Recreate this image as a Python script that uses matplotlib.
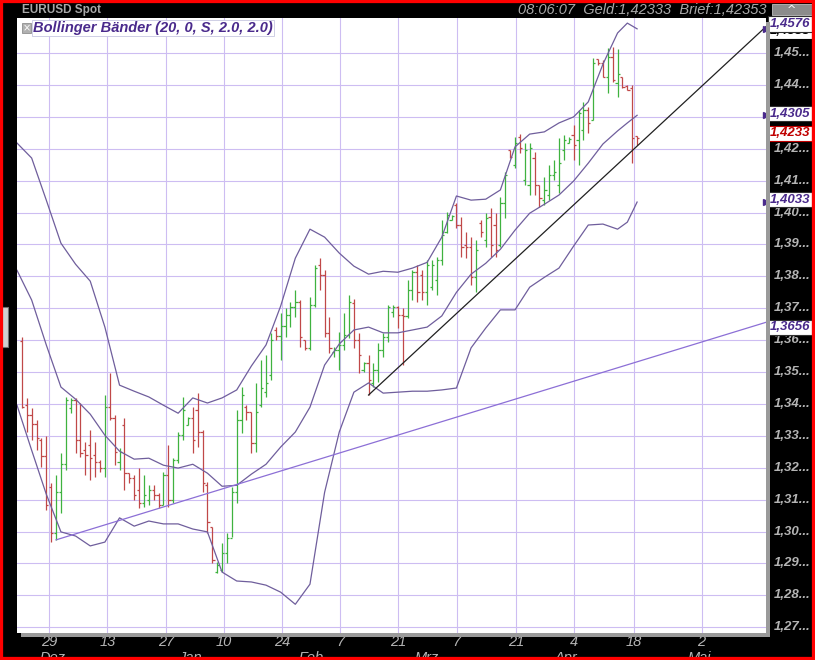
import matplotlib
matplotlib.use("Agg")
import matplotlib.pyplot as plt
from matplotlib.patches import Rectangle
import numpy as np

# EURUSD Tagesbalken (inkl. Sonntagsbalken), Index 0 = 23.11.2010
opens = [1.3597, 1.3396, 1.3365, 1.3337, 1.3287, 1.3236, 1.3139, 1.2996, 1.3123, 1.3211,
         1.3387, 1.3412, 1.3287, 1.3255, 1.3271, 1.3239, 1.3217, 1.3199, 1.3390, 1.3356,
         1.3217, 1.3334, 1.3183, 1.3167, 1.3130, 1.3090, 1.3099, 1.3130, 1.3114, 1.3083,
         1.3177, 1.3099, 1.3224, 1.3302, 1.3334, 1.3356, 1.3380, 1.3312, 1.3145, 1.3014,
         1.2873, 1.2879, 1.2933, 1.2980, 1.3123, 1.3349, 1.3390, 1.3374, 1.3277, 1.3396,
         1.3437, 1.3491, 1.3632, 1.3613, 1.3644, 1.3679, 1.3704, 1.3720, 1.3601, 1.3576,
         1.3710, 1.3835, 1.3804, 1.3623, 1.3563, 1.3569, 1.3585, 1.3616, 1.3717, 1.3601,
         1.3506, 1.3528, 1.3466, 1.3506, 1.3569, 1.3610, 1.3688, 1.3704, 1.3679, 1.3676,
         1.3757, 1.3813, 1.3804, 1.3750, 1.3766, 1.3788, 1.3851, 1.3939, 1.3976, 1.4023,
         1.3961, 1.3898, 1.3892, 1.3797, 1.3967, 1.3914, 1.3986, 1.3961, 1.3898, 1.4030,
         1.4196, 1.4149, 1.4237, 1.4102, 1.4086, 1.4171, 1.4086, 1.4039, 1.4055, 1.4118,
         1.4086, 1.4196, 1.4218, 1.4243, 1.4228, 1.4259, 1.4322, 1.4290, 1.4481, 1.4468,
         1.4424, 1.4487, 1.4405, 1.4424, 1.4396, 1.4390, 1.4240]
highs = [1.3610, 1.3419, 1.3387, 1.3349, 1.3293, 1.3299, 1.3152, 1.3177, 1.3246, 1.3422,
         1.3419, 1.3419, 1.3403, 1.3280, 1.3318, 1.3280, 1.3224, 1.3428, 1.3497, 1.3365,
         1.3262, 1.3356, 1.3183, 1.3177, 1.3199, 1.3177, 1.3145, 1.3145, 1.3120, 1.3186,
         1.3271, 1.3230, 1.3312, 1.3422, 1.3359, 1.3390, 1.3434, 1.3318, 1.3155, 1.3014,
         1.2904, 1.2964, 1.2996, 1.3139, 1.3381, 1.3453, 1.3396, 1.3374, 1.3466, 1.3538,
         1.3553, 1.3623, 1.3641, 1.3685, 1.3701, 1.3720, 1.3757, 1.3726, 1.3601, 1.3735,
         1.3835, 1.3857, 1.3819, 1.3673, 1.3579, 1.3626, 1.3685, 1.3741, 1.3728, 1.3623,
         1.3531, 1.3553, 1.3528, 1.3591, 1.3623, 1.3710, 1.3710, 1.3707, 1.3701, 1.3788,
         1.3819, 1.3835, 1.3819, 1.3851, 1.3851, 1.3860, 1.3976, 1.4001, 1.3992, 1.4030,
         1.3986, 1.3939, 1.3923, 1.3914, 1.3976, 1.3998, 1.4014, 1.3998, 1.4049, 1.4127,
         1.4196, 1.4237, 1.4246, 1.4218, 1.4218, 1.4190, 1.4086, 1.4111, 1.4149, 1.4165,
         1.4234, 1.4243, 1.4237, 1.4275, 1.4322, 1.4347, 1.4331, 1.4484, 1.4481, 1.4478,
         1.4516, 1.4519, 1.4512, 1.4424, 1.4399, 1.4399, 1.4240]
lows = [1.3387, 1.3312, 1.3287, 1.3255, 1.3202, 1.3068, 1.2967, 1.2974, 1.3058, 1.3192,
        1.3371, 1.3246, 1.3233, 1.3177, 1.3161, 1.3170, 1.3186, 1.3170, 1.3349, 1.3208,
        1.3192, 1.3130, 1.3152, 1.3099, 1.3074, 1.3077, 1.3083, 1.3099, 1.3074, 1.3083,
        1.3077, 1.3090, 1.3214, 1.3287, 1.3334, 1.3246, 1.3265, 1.3123, 1.2996, 1.2901,
        1.2870, 1.2873, 1.2901, 1.2983, 1.3090, 1.3309, 1.3349, 1.3246, 1.3249, 1.3390,
        1.3422, 1.3475, 1.3601, 1.3538, 1.3610, 1.3641, 1.3673, 1.3579, 1.3569, 1.3569,
        1.3704, 1.3757, 1.3610, 1.3560, 1.3547, 1.3506, 1.3569, 1.3607, 1.3576, 1.3497,
        1.3500, 1.3428, 1.3453, 1.3469, 1.3547, 1.3594, 1.3673, 1.3638, 1.3522, 1.3670,
        1.3726, 1.3720, 1.3726, 1.3710, 1.3757, 1.3741, 1.3835, 1.3936, 1.3976, 1.3951,
        1.3860, 1.3857, 1.3772, 1.3750, 1.3923, 1.3892, 1.3860, 1.3860, 1.3892, 1.3983,
        1.4171, 1.4140, 1.4187, 1.4086, 1.4055, 1.4055, 1.4017, 1.4023, 1.4039, 1.4102,
        1.4061, 1.4165, 1.4218, 1.4165, 1.4149, 1.4228, 1.4250, 1.4290, 1.4462, 1.4424,
        1.4374, 1.4409, 1.4362, 1.4390, 1.4384, 1.4155, 1.4212]
closes = [1.3390, 1.3365, 1.3337, 1.3293, 1.3236, 1.3083, 1.2996, 1.3123, 1.3211, 1.3412,
          1.3412, 1.3287, 1.3246, 1.3239, 1.3230, 1.3217, 1.3199, 1.3390, 1.3356, 1.3249,
          1.3249, 1.3183, 1.3167, 1.3114, 1.3090, 1.3114, 1.3130, 1.3114, 1.3083, 1.3177,
          1.3099, 1.3224, 1.3302, 1.3381, 1.3356, 1.3287, 1.3312, 1.3152, 1.3030, 1.2911,
          1.2895, 1.2933, 1.2980, 1.3123, 1.3349, 1.3428, 1.3374, 1.3277, 1.3374, 1.3450,
          1.3466, 1.3601, 1.3613, 1.3644, 1.3679, 1.3704, 1.3720, 1.3610, 1.3576, 1.3710,
          1.3826, 1.3804, 1.3623, 1.3576, 1.3569, 1.3585, 1.3616, 1.3720, 1.3601, 1.3553,
          1.3528, 1.3475, 1.3506, 1.3569, 1.3610, 1.3704, 1.3704, 1.3679, 1.3676, 1.3757,
          1.3813, 1.3750, 1.3750, 1.3835, 1.3835, 1.3851, 1.3929, 1.3992, 1.3989, 1.3961,
          1.3892, 1.3892, 1.3797, 1.3882, 1.3939, 1.3983, 1.3898, 1.3882, 1.4030, 1.4118,
          1.4174, 1.4218, 1.4203, 1.4196, 1.4203, 1.4086, 1.4046, 1.4071, 1.4118, 1.4127,
          1.4155, 1.4228, 1.4231, 1.4212, 1.4312, 1.4322, 1.4281, 1.4468, 1.4468, 1.4424,
          1.4487, 1.4415, 1.4434, 1.4393, 1.4384, 1.4234, 1.4233]

band_idx = [-1] + list(range(2, 123, 3)) + [124, 126]
upper = [1.4218, 1.4171, 1.4039, 1.3904, 1.3838, 1.3785, 1.3641, 1.3459, 1.3440, 1.3422,
         1.3396, 1.3371, 1.3419, 1.3403, 1.3419, 1.3444, 1.3519, 1.3585, 1.3707, 1.3857,
         1.3948, 1.3923, 1.3873, 1.3832, 1.3807, 1.3816, 1.3813, 1.3826, 1.3844, 1.3923,
         1.4052, 1.4039, 1.4042, 1.4071, 1.4206, 1.4246, 1.4253, 1.4281, 1.4300, 1.4347,
         1.4465, 1.4563, 1.4594, 1.4576]
middle = [1.3819, 1.3726, 1.3585, 1.3453, 1.3415, 1.3368, 1.3302, 1.3252, 1.3227, 1.3230,
          1.3208, 1.3199, 1.3211, 1.3183, 1.3142, 1.3145, 1.3180, 1.3211, 1.3265, 1.3312,
          1.3390, 1.3522, 1.3588, 1.3632, 1.3641, 1.3623, 1.3623, 1.3632, 1.3641, 1.3676,
          1.3750, 1.3807, 1.3841, 1.3885, 1.3945, 1.3998, 1.4026, 1.4055, 1.4099, 1.4155,
          1.4215, 1.4256, 1.4281, 1.4305]
lower = [1.3396, 1.3255, 1.3117, 1.2999, 1.2986, 1.2955, 1.2967, 1.3043, 1.3017, 1.3033,
         1.3024, 1.3024, 1.3008, 1.2999, 1.2873, 1.2845, 1.2842, 1.2832, 1.2810, 1.2772,
         1.2835, 1.3123, 1.3312, 1.3437, 1.3466, 1.3434, 1.3437, 1.3440, 1.3440, 1.3444,
         1.3450, 1.3576, 1.3638, 1.3695, 1.3695, 1.3766, 1.3797, 1.3826, 1.3895, 1.3961,
         1.3964, 1.3948, 1.3970, 1.4033]

# Trendlinien
purple_x, purple_y = [7, 152.4], [1.2974, 1.3656]
black_x, black_y = [71, 152.4], [1.3428, 1.4583]

# Achsenbeschriftung
tick_pos = [5.5, 17.5, 29.5, 41.3, 53.3, 65.2, 77, 89.1, 101.2, 113.1, 125.3, 139.2]
tick_days = ["29", "13", "27", "10", "24", "7", "21", "7", "21", "4", "18", "2"]
month_pos = [6.3, 34.4, 59.2, 82.9, 111.4, 138.7]
month_names = ["Dez", "Jan", "Feb", "Mrz", "Apr", "Mai"]
price_levels = [1.27, 1.28, 1.29, 1.30, 1.31, 1.32, 1.33, 1.34, 1.35, 1.36,
                1.37, 1.38, 1.39, 1.40, 1.41, 1.42, 1.43, 1.44, 1.45]

GRID = "#cdbdf2"
BAND = "#6f5e9c"
PURPLE = "#4a2a8c"
GREEN = "#3fb23f"
RED = "#c04848"
GREY = "#b4b4b4"
FONT = ["Liberation Sans", "DejaVu Sans"]
NARROW = ["Liberation Sans Narrow", "Liberation Sans", "DejaVu Sans"]

W, H = 815, 660
fig = plt.figure(figsize=(W / 100, H / 100), dpi=100, facecolor="black")
ax = fig.add_axes([17 / W, 1 - 633 / H, 749 / W, 615 / H])
ax.set_facecolor("white")

ax.set_xlim(-1.0, 152.4)
ax.set_ylim(1.2682, 1.4610)
ax.set_xticks(tick_pos)
ax.set_yticks(price_levels)
ax.grid(True, color=GRID, lw=0.8)
ax.set_axisbelow(True)
ax.tick_params(length=0, labelbottom=False, labelleft=False)
for s in ax.spines.values():
    s.set_visible(False)

# OHLC Balken
o = np.array(opens); h = np.array(highs); l = np.array(lows); c = np.array(closes)
idx = np.arange(len(c))
cols = np.where(c >= o, GREEN, RED)
ax.vlines(idx, l, h, colors=cols, lw=0.9, zorder=3)
ax.hlines(o, idx - 0.45, idx, colors=cols, lw=0.9, zorder=3)
ax.hlines(c, idx, idx + 0.45, colors=cols, lw=0.9, zorder=3)

# Bänder und Trendlinien
for b in (upper, middle, lower):
    ax.plot(band_idx, b, color=BAND, lw=0.9, zorder=4)
ax.plot(purple_x, purple_y, color="#8c6fd6", lw=0.9, zorder=4)
ax.plot(black_x, black_y, color="#202020", lw=0.9, zorder=4)

# rechte Preisachse
yt = ax.get_yaxis_transform()
for v in price_levels:
    ax.text(1.011, v, f"{v:.2f}".replace(".", ",") + "...", transform=yt,
            ha="left", va="center", color=GREY, fontsize=9.5, fontweight="bold",
            fontstyle="italic", family=FONT, clip_on=False, zorder=1)

# Wertemarken
marks = [(black_y[1], "#000000", "#000000", -0.0015, False),
         (upper[-1], PURPLE, "#303030", 0.0015, True),
         (middle[-1], PURPLE, "#303030", 0.0005, True),
         (closes[-1], "#c00000", "#c00000", 0.0015, False),
         (lower[-1], PURPLE, "#303030", 0.0007, True),
         (purple_y[1], PURPLE, "#303030", -0.0015, False)]
for v, tc, ec, dy, tri in marks:
    ax.text(1.005, v + dy, f"{v:.4f}".replace(".", ","), transform=yt, ha="left",
            va="center", color=tc, fontsize=9.5, fontweight="bold", fontstyle="italic",
            family=FONT, clip_on=False, zorder=10,
            bbox=dict(boxstyle="square,pad=0.12", fc="white", ec=ec, lw=0.8))
    if tri:
        ax.plot([1.0005], [v], marker=">", ms=4, color=PURPLE, transform=yt,
                clip_on=False, zorder=10)

# Datumsachse
xt = ax.get_xaxis_transform()
for p, d in zip(tick_pos, tick_days):
    ax.text(p, -0.0146, d, transform=xt, ha="center", va="center", color=GREY,
            fontsize=10.5, fontstyle="italic", family=NARROW, clip_on=False)
for p, m in zip(month_pos, month_names):
    ax.text(p, -0.041, m, transform=xt, ha="center", va="center", color=GREY,
            fontsize=10.5, fontstyle="italic", family=NARROW, clip_on=False)

# Kopfzeile
fig.text(22 / W, 1 - 10 / H, "EURUSD Spot", color="#a8a8a8", fontsize=8.5,
         fontweight="bold", family=FONT, va="center", ha="left")
fig.text(767 / W, 1 - 10 / H, "08:06:07  Geld:1,42333  Brief:1,42353", color="#a8a8a8",
         fontsize=10.5, fontstyle="italic", family=FONT, va="center", ha="right")
fig.text(33 / W, 1 - 28 / H, "Bollinger Bänder (20, 0, S, 2.0, 2.0)", color=PURPLE,
         fontsize=10.5, fontweight="bold", fontstyle="italic", family=FONT,
         va="center", ha="left",
         bbox=dict(boxstyle="square,pad=0.1", fc="white", ec="#c8c8e0", lw=0.6))
fig.patches.append(Rectangle((22 / W, 1 - 33 / H), 9 / W, 10 / H, transform=fig.transFigure,
                             fc="#b0b0b0", ec="#808080", lw=0.5))
fig.text(26.5 / W, 1 - 28 / H, "×", color="white", fontsize=7, ha="center", va="center")

# Schatten, Knöpfe und Rahmen
fig.patches.append(Rectangle((766 / W, 1 - 637 / H), 4 / W, 615 / H,
                             transform=fig.transFigure, fc="#9a9a9a", ec="none"))
fig.patches.append(Rectangle((21 / W, 1 - 637 / H), 749 / W, 4 / H,
                             transform=fig.transFigure, fc="#9a9a9a", ec="none"))
fig.patches.append(Rectangle((772 / W, 1 - 15 / H), 40 / W, 11 / H, transform=fig.transFigure,
                             fc="#8c8c8c", ec="#c0c0c0", lw=0.6))
fig.text(792 / W, 1 - 10 / H, "^", color="white", fontsize=8, ha="center", va="center")
fig.patches.append(Rectangle((0, 1 - 347 / H), 8 / W, 40 / H, transform=fig.transFigure,
                             fc="#d0d0d0", ec="#707070", lw=0.8))
fig.patches.append(Rectangle((0, 0), 1, 1, transform=fig.transFigure, fill=False,
                             ec="#ff0000", lw=4.5))

fig.savefig("out.png", dpi=100, facecolor="black")
